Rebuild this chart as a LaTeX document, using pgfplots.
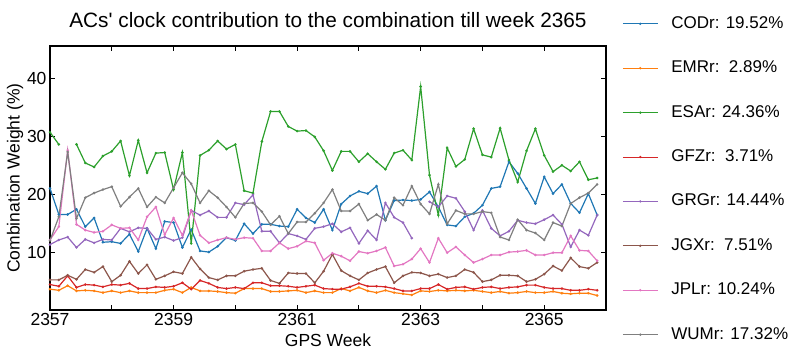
\documentclass[border=0pt]{standalone}
\usepackage{fontspec}
\setmainfont{Liberation Sans}
\newfontfamily\titlefont[Ligatures=ResetAll]{Liberation Sans}
\usepackage{pgfplots}
\usepackage{pgfplotstable}
\pgfplotsset{compat=1.18}
\definecolor{c0}{HTML}{1F77B4}
\definecolor{c1}{HTML}{FF7F0E}
\definecolor{c2}{HTML}{2CA02C}
\definecolor{c3}{HTML}{D62728}
\definecolor{c4}{HTML}{9467BD}
\definecolor{c5}{HTML}{8C564B}
\definecolor{c6}{HTML}{E377C2}
\definecolor{c7}{HTML}{7F7F7F}
\pgfplotstableread{
x COD EMR ESA GFZ GRG JGX JPL WUM
2357.000 21.0 3.6 30.7 4.4 11.3 5.2 12.1 12.0
2357.143 16.5 3.4 28.6 4.1 12.1 5.2 14.4 16.1
2357.286 16.5 4.2 nan 5.9 12.6 6.0 27.6 27.3
2357.429 17.4 3.3 28.6 3.9 10.8 5.3 14.8 15.8
2357.571 14.4 3.4 25.4 4.4 12.2 7.0 13.8 19.4
2357.714 15.9 3.3 24.7 4.3 11.6 6.5 13.4 20.2
2357.857 11.7 3.0 26.6 4.0 12.2 7.5 13.6 20.8
2358.000 11.8 3.3 27.4 4.4 12.1 4.9 14.7 21.3
2358.143 11.5 3.0 29.2 4.3 14.1 6.0 14.1 17.9
2358.286 13.1 3.3 23.2 4.6 13.5 8.4 14.2 19.5
2358.429 10.1 3.0 29.3 3.7 14.2 6.3 12.1 21.0
2358.571 14.1 3.0 23.7 3.7 14.1 7.8 16.1 17.8
2358.714 10.6 3.0 27.1 4.0 12.2 5.3 17.8 19.5
2358.857 15.3 3.4 27.2 3.9 12.6 5.9 13.0 18.5
2359.000 15.1 3.6 20.8 4.1 12.0 6.6 15.9 21.1
2359.143 10.8 3.0 27.2 4.7 12.5 6.3 12.9 23.7
2359.286 13.9 3.9 11.5 3.6 17.2 9.1 17.2 21.8
2359.429 10.2 3.3 26.7 5.1 16.4 7.1 12.9 18.5
2359.571 10.0 3.3 27.6 4.6 17.1 5.6 11.6 20.6
2359.714 11.0 3.2 29.2 3.9 16.0 5.2 12.1 19.4
2359.857 12.5 3.0 27.8 3.7 16.0 5.9 12.5 17.8
2360.000 12.0 2.9 28.6 3.9 18.5 5.9 12.2 16.0
2360.143 14.9 3.7 20.6 3.7 18.2 6.7 12.5 18.4
2360.286 13.2 3.7 20.2 4.7 19.9 7.0 12.4 18.5
2360.429 14.8 3.7 29.1 4.7 13.6 7.2 10.2 17.0
2360.571 14.8 3.2 34.3 4.2 13.6 5.1 10.2 14.7
2360.714 14.5 3.2 34.3 4.2 11.6 4.6 11.6 16.2
2360.857 14.4 3.3 31.7 4.1 13.2 6.4 10.6 13.2
2361.000 17.4 3.4 30.9 3.9 12.8 6.3 11.0 15.2
2361.143 15.9 3.0 31.0 4.1 12.2 6.3 11.9 15.2
2361.286 15.1 3.3 29.9 4.3 14.1 4.7 11.6 16.7
2361.429 17.4 3.0 27.5 3.7 14.4 6.7 8.6 18.5
2361.571 13.8 3.0 24.1 3.6 14.9 9.6 9.8 20.8
2361.714 18.3 3.7 27.4 3.6 13.5 6.8 9.3 17.1
2361.857 19.7 3.3 27.4 4.0 14.2 5.9 8.5 17.1
2362.000 20.5 3.9 25.6 4.6 11.5 5.2 10.1 18.3
2362.143 20.1 3.3 27.0 4.1 13.7 6.4 9.8 15.5
2362.286 21.4 3.0 25.6 4.1 12.1 7.0 10.2 16.5
2362.429 15.5 3.4 24.3 4.0 18.5 7.5 10.8 15.5
2362.571 18.9 3.0 27.1 3.7 16.0 4.7 7.6 19.4
2362.714 19.0 2.8 27.6 3.3 15.1 5.9 7.9 18.1
2362.857 18.9 2.6 25.9 3.3 12.4 6.5 8.8 21.4
2363.000 19.1 3.3 38.6 3.7 nan 6.4 10.6 18.3
2363.143 20.4 3.2 23.3 3.7 18.7 5.9 8.2 16.6
2363.286 17.8 3.4 16.4 4.4 17.8 6.2 12.4 21.7
2363.429 14.7 3.3 28.0 3.6 19.7 5.6 9.9 14.9
2363.571 14.5 3.4 24.8 3.9 19.3 5.9 10.9 17.2
2363.714 16.1 3.3 26.0 4.0 17.0 7.0 9.5 16.6
2363.857 16.7 3.4 31.3 3.6 13.8 6.5 8.2 16.6
2364.000 18.1 3.2 26.8 3.9 17.2 4.9 8.8 17.0
2364.143 21.0 3.0 26.4 4.0 14.1 5.2 9.5 16.8
2364.286 21.3 3.2 31.4 3.7 12.8 6.0 9.5 12.6
2364.429 25.6 2.9 25.9 3.9 13.6 6.0 10.0 12.1
2364.571 23.6 3.0 22.1 4.0 15.5 5.9 10.1 15.6
2364.714 21.0 3.2 27.5 4.3 15.1 4.9 10.3 13.8
2364.857 18.4 3.0 31.3 4.3 14.9 5.3 9.5 13.3
2365.000 23.0 3.0 26.7 3.9 15.6 6.2 9.5 12.1
2365.143 20.1 3.2 23.9 3.7 16.4 7.6 9.9 15.1
2365.286 21.7 2.9 25.0 3.7 14.8 6.8 9.9 14.5
2365.429 18.4 2.8 24.0 3.4 10.9 9.0 12.8 18.4
2365.571 16.8 2.9 25.6 3.4 13.8 7.5 10.3 19.4
2365.714 20.1 2.9 22.5 3.6 12.9 7.2 10.2 20.2
2365.857 16.4 2.5 22.8 3.4 16.4 8.2 8.5 21.7
}\data
\begin{document}
\begin{tikzpicture}
\begin{axis}[
  scale only axis, width=556pt, height=264pt,
  xmin=2357, xmax=2366, ymin=0, ymax=45.6,
  xtick={2357,2359,2361,2363,2365},
  minor xtick={2358,2360,2362,2364,2366},
  ytick={10,20,30,40},
  scaled x ticks=false,
  /pgf/number format/1000 sep={},
  /pgf/number format/assume math mode=true,
  tick align=inside, major tick length=5pt, minor tick length=5pt,
  tick style={black, line width=0.9pt},
  axis line style={line width=1.1pt},
  ticklabel style={font=\fontsize{17.5}{20}\selectfont},
  unbounded coords=jump,
  every axis plot/.append style={line width=1.2pt, mark=*, mark size=0.6pt},
  legend style={at={(1.029,1.117)}, anchor=north west, draw=none, fill=none,
    inner sep=0pt, row sep=27.4pt,
    font=\fontsize{17}{20}\selectfont,
    nodes={text height=12pt, text depth=3pt, inner sep=1pt},
    /tikz/every odd column/.append style={column sep=12pt}},
  legend cell align=left,
  legend image code/.code={\draw[mark repeat=2,mark phase=2,#1,line width=1pt] plot coordinates {(0pt,0pt) (17.5pt,0pt) (35pt,0pt)};},
]
\addplot[c0] table[x=x,y=COD]{\data};
\addplot[c1] table[x=x,y=EMR]{\data};
\addplot[c2] table[x=x,y=ESA]{\data};
\addplot[c3] table[x=x,y=GFZ]{\data};
\addplot[c4] table[x=x,y=GRG]{\data};
\addplot[c5] table[x=x,y=JGX]{\data};
\addplot[c6] table[x=x,y=JPL]{\data};
\addplot[c7] table[x=x,y=WUM]{\data};
\legend{CODr: 19.52\%, EMRr:\ \ 2.89\%, ESAr: 24.36\%, GFZr:\ \ 3.71\%, GRGr: 14.44\%, JGXr:\ \ 7.51\%, JPLr: 10.24\%, WUMr: 17.32\%}
\end{axis}
\node[font=\titlefont\fontsize{20.8}{25}\selectfont] at (278pt,290pt) {ACs' clock contribution to the combination till week 2365};
\node[font=\fontsize{17.5}{21}\selectfont] at (278pt,-30pt) {GPS Week};
\node[font=\fontsize{17.5}{21}\selectfont, rotate=90] at (-35pt,132pt) {Combination Weight (\%)};
\path[use as bounding box] (-50pt,-47pt) rectangle (750pt,310pt);
\end{tikzpicture}
\end{document}
